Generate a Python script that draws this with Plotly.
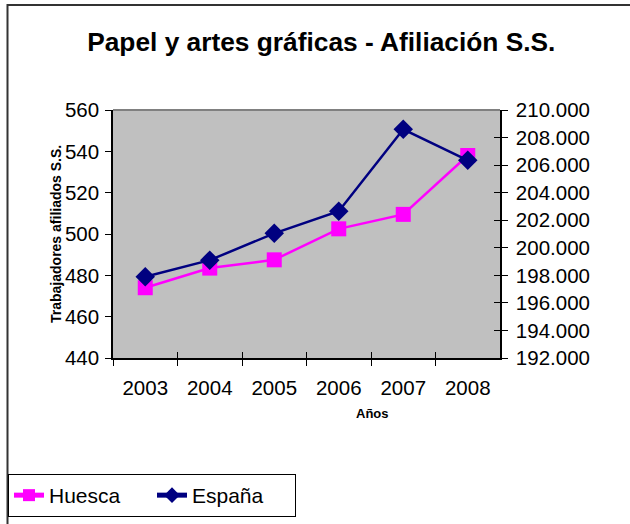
import plotly.graph_objects as go

years = ["2003", "2004", "2005", "2006", "2007", "2008"]
huesca = [474, 483.5, 487.5, 502.5, 509.5, 538]
espana = [197900, 199100, 201050, 202650, 208600, 206350]
left_ticks = [440, 460, 480, 500, 520, 540, 560]
right_ticks = [192000, 194000, 196000, 198000, 200000, 202000, 204000, 206000, 208000, 210000]
right_labels = [f"{v:,}".replace(",", ".") for v in right_ticks]

W, H = 630, 524
x0, x1 = 113, 500
yt, yb = 110, 358
xd = [x0 / W, x1 / W]
yd = [1 - yb / H, 1 - yt / H]
FONT = "Liberation Sans, Arial, sans-serif"

fig = go.Figure()
fig.add_trace(go.Scatter(
    x=years, y=huesca, name="Huesca", mode="lines+markers",
    line=dict(color="#FF00FF", width=2.5),
    marker=dict(symbol="square", size=15, color="#FF00FF"),
    xaxis="x", yaxis="y"))
fig.add_trace(go.Scatter(
    x=years, y=espana, name="España", mode="lines+markers",
    line=dict(color="#000080", width=2.5),
    marker=dict(symbol="diamond", size=15, color="#000080"),
    xaxis="x", yaxis="y2"))

tickfont = dict(family=FONT, size=20.5, color="black")
fig.update_layout(
    width=W, height=H,
    margin=dict(l=0, r=0, t=0, b=0, autoexpand=False),
    paper_bgcolor="white", plot_bgcolor="#C0C0C0",
    showlegend=True,
    legend=dict(orientation="h", x=8 / W, y=1 - 474 / H, xanchor="left", yanchor="top",
                bordercolor="black", borderwidth=1, bgcolor="white",
                font=dict(family=FONT, size=21, color="black"),
                tracegroupgap=0, itemsizing="constant", entrywidth=98, entrywidthmode="pixels"),
    title=dict(text="<b>Papel y artes gráficas - Afiliación S.S.</b>",
               x=0.51, xanchor="center", y=1 - 42 / H, yanchor="middle",
               font=dict(family=FONT, size=26.3, color="black")),
    xaxis=dict(domain=xd, type="category", categoryorder="array", categoryarray=years,
               range=[-0.5, 5.5], tickson="boundaries", ticks="outside", ticklen=6,
               tickcolor="black", showline=True, linecolor="black", linewidth=1.5,
               showgrid=False, zeroline=False, tickfont=tickfont, anchor="y",
               automargin=False, ticklabelstandoff=11),
    xaxis2=dict(domain=xd, type="category", categoryorder="array", categoryarray=years,
                range=[-0.5, 5.5], tickson="boundaries", ticks="inside", ticklen=6,
                tickcolor="black", showticklabels=False, showgrid=False, zeroline=False,
                overlaying="x", anchor="y", showline=False, automargin=False),
    yaxis=dict(domain=yd, range=[440, 560], tickvals=left_ticks, ticks="outside", ticklen=6,
               tickcolor="black", showline=True, linecolor="black", linewidth=1.5,
               showgrid=False, zeroline=False, tickfont=tickfont, anchor="x",
               ticklabelstandoff=2, automargin=False),
    yaxis2=dict(domain=yd, range=[192000, 210000], tickvals=right_ticks, ticktext=right_labels,
                side="right", overlaying="y", anchor="x", ticks="outside", ticklen=6,
                tickcolor="black", showline=True, linecolor="black", linewidth=1.5,
                showgrid=False, zeroline=False, tickfont=tickfont, automargin=False,
                ticklabelstandoff=4),
    yaxis3=dict(domain=yd, range=[192000, 210000], tickvals=right_ticks,
                side="right", overlaying="y", anchor="x", ticks="inside", ticklen=6,
                tickcolor="black", showticklabels=False, showgrid=False, zeroline=False,
                automargin=False),
)
# dummy traces to activate overlay axes
fig.add_trace(go.Scatter(x=[years[0]], y=[None], xaxis="x2", yaxis="y", showlegend=False,
                         hoverinfo="skip"))
fig.add_trace(go.Scatter(x=[years[0]], y=[None], xaxis="x", yaxis="y3", showlegend=False,
                         hoverinfo="skip"))

# plot area border (top), chart border
fig.add_shape(type="line", xref="paper", yref="paper", x0=xd[0], x1=xd[1], y0=yd[1], y1=yd[1],
              line=dict(color="#808080", width=2))
fig.add_shape(type="rect", xref="paper", yref="paper", x0=7.5 / W, x1=1.2, y0=-0.2, y1=1 - 5 / H,
              line=dict(color="#333333", width=2), fillcolor="rgba(0,0,0,0)", layer="above")

fig.add_annotation(text="<b>Trabajadores afiliados S.S.</b>", xref="paper", yref="paper",
                   x=46 / W, y=1 - 234 / H, textangle=-90, showarrow=False,
                   font=dict(family=FONT, size=14, color="black"))
fig.add_annotation(text="<b>Años</b>", xref="paper", yref="paper",
                   x=372 / W, y=1 - 413 / H, yanchor="middle", showarrow=False,
                   font=dict(family=FONT, size=13, color="black"))

fig.write_html("out.html", config={"displayModeBar": False},
               post_script="document.body.style.margin='0';document.body.style.overflow='hidden';")
